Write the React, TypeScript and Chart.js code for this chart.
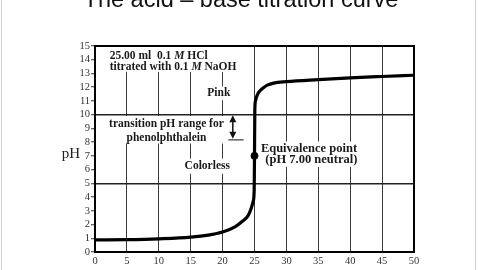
import React, { useEffect, useRef } from "react";
import { Chart, registerables } from "chart.js";

Chart.register(...registerables);

const TITLE = "The acid – base titration curve";
const Y_LABEL = "pH";

// volume of 0.1 M NaOH added (mL)
const volumeAdded = [0, 5, 10, 15, 18, 20, 22, 23, 24, 24.5, 24.8, 24.95, 25, 25.05, 25.15, 25.5, 26, 26.5, 27, 28, 30, 35, 40, 45, 50];
// measured pH
const phValues = [0.88, 0.9, 0.96, 1.08, 1.25, 1.45, 1.85, 2.2, 2.65, 3.2, 3.7, 4.5, 7, 10.3, 11.0, 11.5, 11.8, 12.0, 12.15, 12.3, 12.4, 12.55, 12.68, 12.78, 12.87];

const equivalenceVolume = [25];
const equivalencePH = [7];

const xTickValues = [0, 5, 10, 15, 20, 25, 30, 35, 40, 45, 50];
const yMin = 0;
const yMax = 15;
const gridPH = [5, 10];

const noteHCl = [
  [{ t: "25.00 ml  0.1 " }, { t: "M", i: true }, { t: " HCl" }],
  [{ t: "titrated with 0.1 " }, { t: "M", i: true }, { t: " NaOH" }],
];
const notePink = "Pink";
const noteTransition = ["transition pH range for", "phenolphthalein"];
const noteColorless = "Colorless";
const noteEquivalence = ["Equivalence point", "(pH 7.00 neutral)"];

const SERIF = "'Liberation Serif', 'DejaVu Serif', serif";

const annotationPlugin = {
  id: "annotations",
  beforeDatasetsDraw(chart: any) {
    const ctx = chart.ctx as CanvasRenderingContext2D;
    const xs = chart.scales.x;
    const ys = chart.scales.y;
    const px = (v: number) => xs.getPixelForValue(v);
    const py = (v: number) => ys.getPixelForValue(v);
    const area = chart.chartArea;
    ctx.save();

    // white boxes behind notes
    ctx.fillStyle = "#fff";
    const box = (x0: number, y0: number, x1: number, y1: number) => {
      const a = px(x0), b = px(x1), c = py(y0), d = py(y1);
      ctx.fillRect(Math.min(a, b), Math.min(c, d), Math.abs(b - a), Math.abs(d - c));
    };
    box(0.15, 14.95, 23.4, 13.1);
    box(0.15, 9.9, 20.8, 7.9);
    box(17.3, 12.05, 21.5, 11.05);
    box(13.6, 6.8, 21.6, 5.7);
    box(25.9, 8.05, 40.8, 6.2);

    const bold = `bold 11.5px ${SERIF}`;
    const boldIt = `italic bold 11.5px ${SERIF}`;
    ctx.fillStyle = "#1a1a1a";
    ctx.textBaseline = "middle";

    // HCl note with italic M
    const drawRuns = (runs: any[], x: number, y: number) => {
      let cx = x;
      ctx.textAlign = "left";
      for (const r of runs) {
        ctx.font = r.i ? boldIt : bold;
        ctx.fillText(r.t, cx, y);
        cx += ctx.measureText(r.t).width;
      }
    };
    drawRuns(noteHCl[0], px(2.3), py(14.3));
    drawRuns(noteHCl[1], px(2.3), py(13.5));

    ctx.font = bold;
    ctx.textAlign = "center";
    ctx.fillText(notePink, px(19.4), py(11.55));
    ctx.fillText(noteTransition[0], px(11.2), py(9.35));
    ctx.fillText(noteTransition[1], px(11.2), py(8.3));
    ctx.fillText(noteColorless, px(17.6), py(6.25));
    ctx.font = `bold 12.5px ${SERIF}`;
    ctx.textAlign = "left";
    ctx.fillText(noteEquivalence[0], px(26.0), py(7.5));
    ctx.fillText(noteEquivalence[1], px(26.7), py(6.7));

    // double arrow
    const ax = px(21.6);
    const aTop = py(9.95);
    const aBot = py(8.25);
    ctx.strokeStyle = "#111";
    ctx.lineWidth = 1.5;
    ctx.beginPath();
    ctx.moveTo(ax, aTop + 4);
    ctx.lineTo(ax, aBot - 4);
    ctx.stroke();
    ctx.fillStyle = "#111";
    ctx.beginPath();
    ctx.moveTo(ax, aTop);
    ctx.lineTo(ax - 3.5, aTop + 7);
    ctx.lineTo(ax + 3.5, aTop + 7);
    ctx.closePath();
    ctx.fill();
    ctx.beginPath();
    ctx.moveTo(ax, aBot);
    ctx.lineTo(ax - 3.5, aBot - 7);
    ctx.lineTo(ax + 3.5, aBot - 7);
    ctx.closePath();
    ctx.fill();
    ctx.lineWidth = 1;
    ctx.beginPath();
    ctx.moveTo(px(20.9), py(8.2) + 0.5);
    ctx.lineTo(px(23.3), py(8.2) + 0.5);
    ctx.stroke();

    // plot frame
    ctx.strokeStyle = "#000";
    ctx.lineWidth = 2;
    ctx.strokeRect(area.left, area.top, area.right - area.left, area.bottom - area.top);
    ctx.restore();
  },
  afterDraw(chart: any) {
    const ctx = chart.ctx as CanvasRenderingContext2D;
    ctx.save();
    // title (partly cut at top)
    ctx.font = "23.5px 'Liberation Sans', Arial, sans-serif";
    ctx.fillStyle = "#111";
    ctx.textAlign = "center";
    ctx.textBaseline = "alphabetic";
    ctx.fillText(TITLE, 241, 7);
    // axis label
    ctx.font = `15px ${SERIF}`;
    ctx.fillStyle = "#222";
    ctx.textAlign = "center";
    ctx.textBaseline = "middle";
    ctx.fillText(Y_LABEL, 71, chart.scales.y.getPixelForValue(7.1));
    // faint slide frame
    ctx.strokeStyle = "#cfcfcf";
    ctx.lineWidth = 1;
    ctx.beginPath();
    ctx.moveTo(1.5, 0);
    ctx.lineTo(1.5, 270);
    ctx.moveTo(475.5, 0);
    ctx.lineTo(475.5, 270);
    ctx.stroke();
    ctx.restore();
  },
};

export default function App() {
  const ref = useRef<HTMLCanvasElement | null>(null);
  useEffect(() => {
    if (!ref.current) return;
    const chart = new Chart(ref.current, {
      type: "line",
      data: {
        datasets: [
          {
            data: volumeAdded.map((v, i) => ({ x: v, y: phValues[i] })),
            borderColor: "#000",
            borderWidth: 3.2,
            pointRadius: 0,
            cubicInterpolationMode: "monotone",
            fill: false,
          },
          {
            data: equivalenceVolume.map((v, i) => ({ x: v, y: equivalencePH[i] })),
            showLine: false,
            pointRadius: 3.5,
            pointBackgroundColor: "#000",
            pointBorderColor: "#000",
          },
        ],
      },
      options: {
        responsive: false,
        animation: false,
        devicePixelRatio: 1,
        layout: { padding: { left: 65, right: 66, top: 46, bottom: 0 } },
        plugins: { legend: { display: false }, tooltip: { enabled: false }, title: { display: false } },
        scales: {
          x: {
            type: "linear",
            min: 0,
            max: 50,
            afterFit: (s: any) => {
              s.height = 18;
            },
            afterBuildTicks: (s: any) => {
              s.ticks = xTickValues.map((v) => ({ value: v }));
            },
            ticks: { font: { family: SERIF, size: 10.5 }, color: "#333", padding: 3, maxRotation: 0, autoSkip: false },
            grid: {
              drawTicks: false,
              color: "#3a3a3a",
              lineWidth: 1,
            },
            border: { display: false },
          },
          y: {
            min: yMin,
            max: yMax,
            afterFit: (s: any) => {
              s.width = 30;
            },
            ticks: { stepSize: 1, font: { family: SERIF, size: 10.5 }, color: "#333", padding: 1, autoSkip: false },
            grid: {
              color: (c: any) => (gridPH.includes(c.tick?.value) ? "#222" : "rgba(0,0,0,0)"),
              lineWidth: 1.5,
              tickColor: "#333",
              tickLength: 4,
              tickWidth: 1,
            },
            border: { display: false },
          },
        },
      },
      plugins: [annotationPlugin],
    });
    return () => chart.destroy();
  }, []);
  return (
    <div style={{ position: "fixed", left: 0, top: 0, width: 480, height: 270, background: "#fff" }}>
      <canvas ref={ref} width={480} height={270} />
    </div>
  );
}
